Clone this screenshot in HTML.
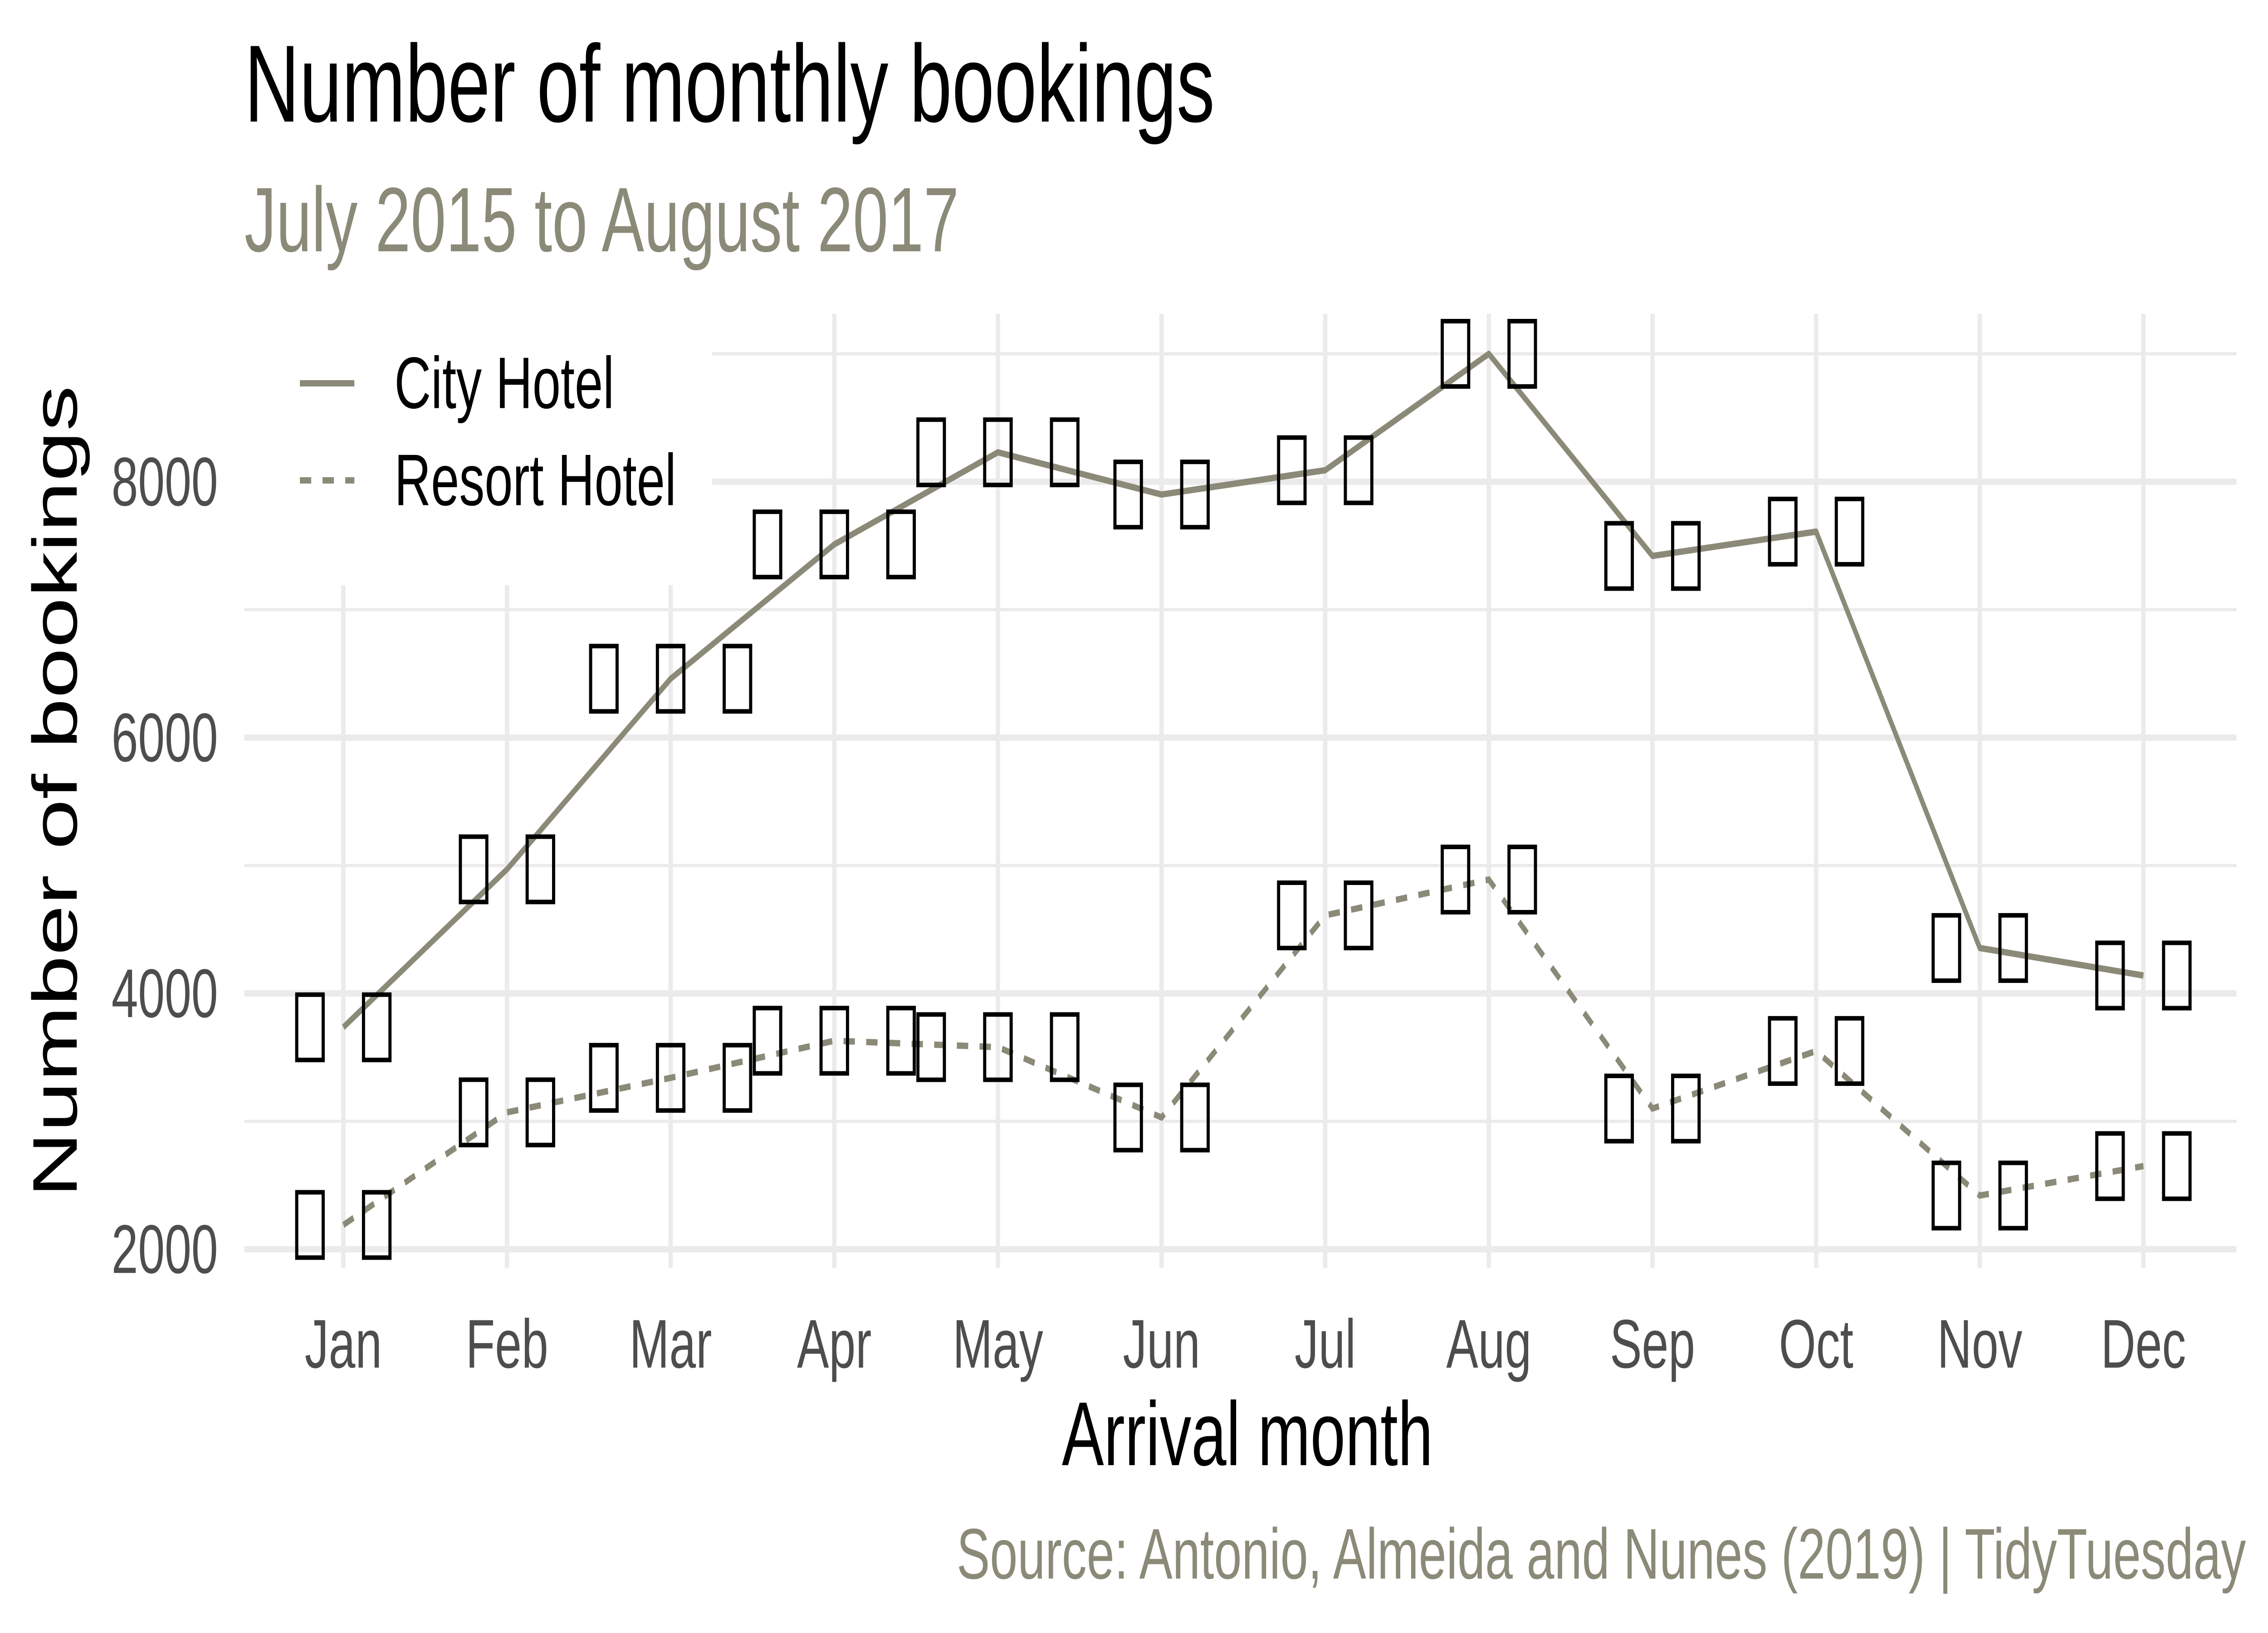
<!DOCTYPE html>
<html><head><meta charset="utf-8"><style>
html,body{margin:0;padding:0;background:#fff;overflow:hidden;width:100vw;height:100vh;}
svg{display:block;font-family:"Liberation Sans",sans-serif;width:100vw;height:100vh;}
</style></head><body>
<svg id="chart" viewBox="0 0 7200 3600" preserveAspectRatio="none" xmlns="http://www.w3.org/2000/svg">
<rect width="7200" height="3600" fill="#fff"/>
<g id="grid"></g>
<g id="legend-bg-g"><rect x="776" y="692" width="1484" height="598" fill="#fff"/></g>
<g id="series"></g>
<g id="boxes"></g>
<g id="axes"></g>
<text x="776" y="268" font-size="242" fill="#000">Number of monthly bookings</text>
<text x="776" y="554" font-size="202" fill="#8b8a78">July 2015 to August 2017</text>
<text x="3960" y="3230" font-size="200" text-anchor="middle" fill="#000">Arrival month</text>
<text transform="translate(175,1745) rotate(-90)" font-size="200" text-anchor="middle" dominant-baseline="central" fill="#000">Number of bookings</text>
<text x="7130" y="3480" font-size="158" text-anchor="end" fill="#8b8a78">Source: Antonio, Almeida and Nunes (2019) | TidyTuesday</text>
<g>
<line x1="952" y1="845" x2="1125" y2="845" stroke="#8b8a78" stroke-width="14"/>
<text x="1252" y="845" font-size="161" dominant-baseline="central">City Hotel</text>
<line x1="952" y1="1059" x2="1125" y2="1059" stroke="#8b8a78" stroke-width="14" stroke-dasharray="36,36"/>
<text x="1252" y="1059" font-size="161" dominant-baseline="central">Resort Hotel</text>
</g>
</svg>
<script>
const months = ["Jan","Feb","Mar","Apr","May","Jun","Jul","Aug","Sep","Oct","Nov","Dec"];
const cityValues = [3735,4970,6460,7510,8230,7900,8090,9000,7420,7610,4355,4140];
const resortValues = [2190,3070,3340,3630,3580,3030,4610,4890,3100,3550,2420,2650];
const boxCounts = [2,2,3,3,3,2,2,2,2,2,2,2];
const yTicks = [2000,4000,6000,8000];
const yMinor = [3000,5000,7000,9000];
const NS="http://www.w3.org/2000/svg";
function x(i){return 1090+i*519.5;}
function y(v){return 2754-(v-2000)*0.282;}
function mk(tag,attrs,parent){const e=document.createElementNS(NS,tag);for(const k in attrs)e.setAttribute(k,attrs[k]);parent.appendChild(e);return e;}
const grid=document.getElementById('grid'),axes=document.getElementById('axes'),series=document.getElementById('series'),boxes=document.getElementById('boxes');
yMinor.forEach(v=>{const l=mk('line',{x1:776,x2:7100,y1:y(v),y2:y(v),stroke:'#ebebeb','stroke-width':7},grid);

});
yTicks.forEach(v=>{const l=mk('line',{x1:776,x2:7100,y1:y(v),y2:y(v),stroke:'#ebebeb','stroke-width':14},grid);


const t=mk('text',{x:692,y:y(v),'font-size':152,fill:'#4d4d4d','text-anchor':'end','dominant-baseline':'central'},axes);t.textContent=v;

});
months.forEach((m,i)=>{const l=mk('line',{x1:x(i),x2:x(i),y1:692,y2:2795,stroke:'#ebebeb','stroke-width':14},grid);


const t=mk('text',{x:x(i),y:3015,'font-size':152,fill:'#4d4d4d','text-anchor':'middle'},axes);t.textContent=m;

});
function path(vals){return vals.map((v,i)=>(i?'L':'M')+x(i)+','+y(v)).join(' ');}
const pc=mk('path',{d:path(cityValues),fill:'none',stroke:'#8b8a78','stroke-width':14,'stroke-linejoin':'round'},series);


const pr=mk('path',{d:path(resortValues),fill:'none',stroke:'#8b8a78','stroke-width':14,'stroke-dasharray':'36,36'},series);


function drawBoxes(vals,name){vals.forEach((v,i)=>{const n=boxCounts[i];const step=212;const start=-(n-1)*step/2;
for(let k=0;k<n;k++){const cx=x(i)+start+k*step;const r=mk('rect',{x:cx-42,y:y(v)-72,width:84,height:144,fill:'none',stroke:'#000','stroke-width':10},boxes);

}});}
drawBoxes(cityValues,'city');
drawBoxes(resortValues,'resort');
</script>
</body></html>
